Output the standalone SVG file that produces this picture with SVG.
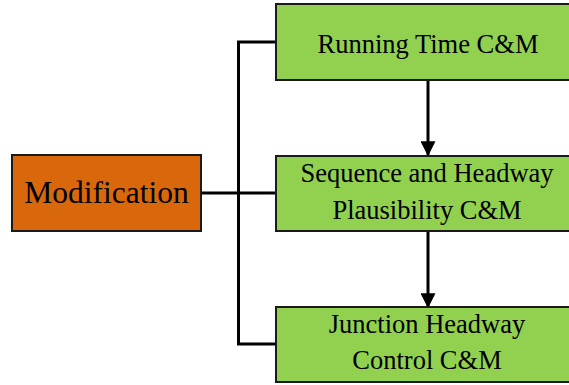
<svg xmlns="http://www.w3.org/2000/svg" width="569" height="385" viewBox="0 0 569 385">
  <style>
    .box { stroke: #1a1a1a; stroke-width: 2; }
    .root { fill: #D9680C; }
    .step { fill: #92D050; }
    .label { font-family: "Liberation Serif", "Times New Roman", serif; fill: #000; text-anchor: middle; }
    .big { font-size: 31.5px; }
    .small { font-size: 26.5px; }
    .wire { fill: none; stroke: #000; stroke-width: 3; }
  </style>
  <defs>
    <marker id="head" markerWidth="5" markerHeight="5" refX="4.6" refY="2.5" orient="auto" markerUnits="strokeWidth">
      <path d="M0,0 L5,2.5 L0,5 Z" fill="#000"/>
    </marker>
  </defs>

  <rect width="569" height="385" fill="#fff"/>

  <!-- connectors -->
  <g id="connectors">
    <line class="wire" x1="201" y1="193" x2="276" y2="193"/>
    <polyline class="wire" points="276,42 238.5,42 238.5,344 276,344"/>
    <line class="wire" x1="428" y1="80" x2="428" y2="155" marker-end="url(#head)"/>
    <line class="wire" x1="428" y1="231" x2="428" y2="307" marker-end="url(#head)"/>
  </g>

  <g id="modification">
    <rect class="box root" x="12" y="155" width="189" height="76"/>
    <text class="label big" x="106.5" y="203">Modification</text>
  </g>

  <g id="running-time">
    <rect class="box step" x="276" y="4" width="304" height="76"/>
    <text class="label small" x="428" y="52.5">Running Time C&amp;M</text>
  </g>

  <g id="sequence-headway">
    <rect class="box step" x="276" y="156" width="304" height="75"/>
    <text class="label small" x="427" y="181.5">Sequence and Headway</text>
    <text class="label small" x="427" y="219">Plausibility C&amp;M</text>
  </g>

  <g id="junction-headway">
    <rect class="box step" x="276" y="307" width="304" height="75"/>
    <text class="label small" x="427" y="332.5">Junction Headway</text>
    <text class="label small" x="427" y="369">Control C&amp;M</text>
  </g>
</svg>
